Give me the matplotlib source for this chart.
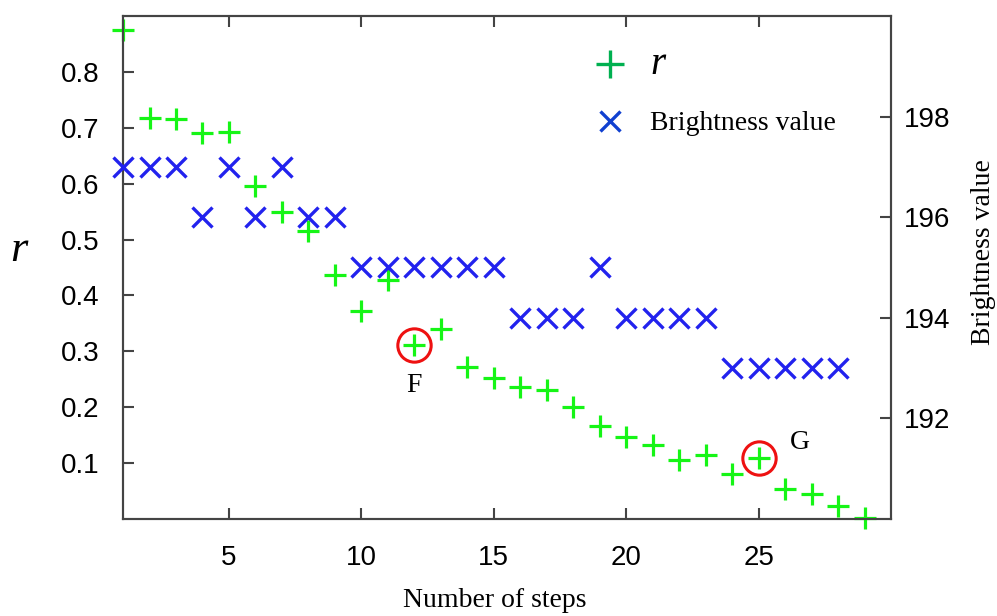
import matplotlib
matplotlib.use("Agg")
import matplotlib.pyplot as plt
from matplotlib.lines import Line2D

steps = list(range(1, 30))
r_values = [0.875, 0.717, 0.715, 0.690, 0.692, 0.596, 0.549, 0.515, 0.437, 0.372,
            0.428, 0.311, 0.340, 0.272, 0.252, 0.236, 0.230, 0.200, 0.166, 0.147,
            0.133, 0.106, 0.114, 0.081, 0.110, 0.053, 0.045, 0.024, 0.001]
brightness = [197, 197, 197, 196, 197, 196, 197, 196, 196, 195,
              195, 195, 195, 195, 195, 194, 194, 194, 195, 194,
              194, 194, 194, 193, 193, 193, 193, 193]
brightness_steps = list(range(1, 29))
highlight_steps = [12, 25]
highlight_labels = ["F", "G"]
x_ticks = [5, 10, 15, 20, 25]
r_ticks = [0.1, 0.2, 0.3, 0.4, 0.5, 0.6, 0.7, 0.8]
b_ticks = [192, 194, 196, 198]

SANS = "Liberation Sans"
SERIF = "Liberation Serif"
GREEN = "#16f516"
BLUE = "#2222ee"
SPINE = "#444444"

fig = plt.figure(figsize=(9.97, 6.16), dpi=100)
ax = fig.add_axes([0.1234, 0.1575, 0.7703, 0.8165])
ax2 = ax.twinx()

ax.plot(steps, r_values, linestyle="none", marker="+", markersize=16,
        markeredgewidth=2.3, color=GREEN, clip_on=False, zorder=3)
ax2.plot(brightness_steps, brightness, linestyle="none", marker="x",
         markersize=15, markeredgewidth=2.4, color=BLUE, clip_on=False, zorder=3)

# circled points with their letters
for s, lab in zip(highlight_steps, highlight_labels):
    rv = r_values[steps.index(s)]
    ax.plot([s], [rv], linestyle="none", marker="o", markersize=24,
            markerfacecolor="none", markeredgecolor="#ee1111",
            markeredgewidth=2.2, clip_on=False, zorder=4)
    off = (0, -29) if lab == "F" else (30, 11)
    ax.annotate(lab, (s, rv), xytext=off, textcoords="offset points",
                ha="center", va="center", fontsize=20, family=SERIF)

ax.set_xlim(1, 30)
ax.set_ylim(0, 0.9)
ax2.set_ylim(190, 200)

ax.set_xticks(x_ticks)
ax.set_yticks(r_ticks)
ax.set_yticklabels([f"{v:.1f}" for v in r_ticks])
ax2.set_yticks(b_ticks)

ax.tick_params(axis="x", direction="in", top=True, length=8, width=1.5,
               color=SPINE, pad=19, labelsize=20)
ax.tick_params(axis="y", direction="in", length=8, width=1.5,
               color=SPINE, pad=17, labelsize=20)
ax2.tick_params(axis="y", direction="in", length=8, width=1.5,
                color=SPINE, pad=9, labelsize=20)
for a in (ax, ax2):
    for lbl in a.get_xticklabels() + a.get_yticklabels():
        lbl.set_family(SANS)
    for sp in a.spines.values():
        sp.set_color(SPINE)
        sp.set_linewidth(1.5)

ax.set_xlabel("Number of steps", family=SERIF, fontsize=20, va="center")
ax.xaxis.set_label_coords(0.484, -0.162)
ax.set_ylabel("r", family=SERIF, style="italic", fontsize=32, rotation=0,
              va="center", ha="center")
ax.yaxis.set_label_coords(-0.135, 0.535)
ax2.set_ylabel("Brightness value", family=SERIF, fontsize=20,
               va="center", ha="center")
ax2.yaxis.set_label_coords(1.121, 0.53)

handles = [
    Line2D([], [], linestyle="none", marker="+", markersize=20,
           markeredgewidth=2.4, color="#00b050"),
    Line2D([], [], linestyle="none", marker="x", markersize=15,
           markeredgewidth=2.4, color="#1040d0"),
]
leg = ax2.legend(handles, ["r", "Brightness value"], loc="upper left",
                 bbox_to_anchor=(0.58, 0.99), frameon=False,
                 handletextpad=0.85, labelspacing=1.0, handlelength=1.2,
                 prop={"family": SERIF, "size": 20})
leg.get_texts()[0].set_fontstyle("italic")
leg.get_texts()[0].set_fontsize(28)

fig.savefig("out.png", dpi=100)
